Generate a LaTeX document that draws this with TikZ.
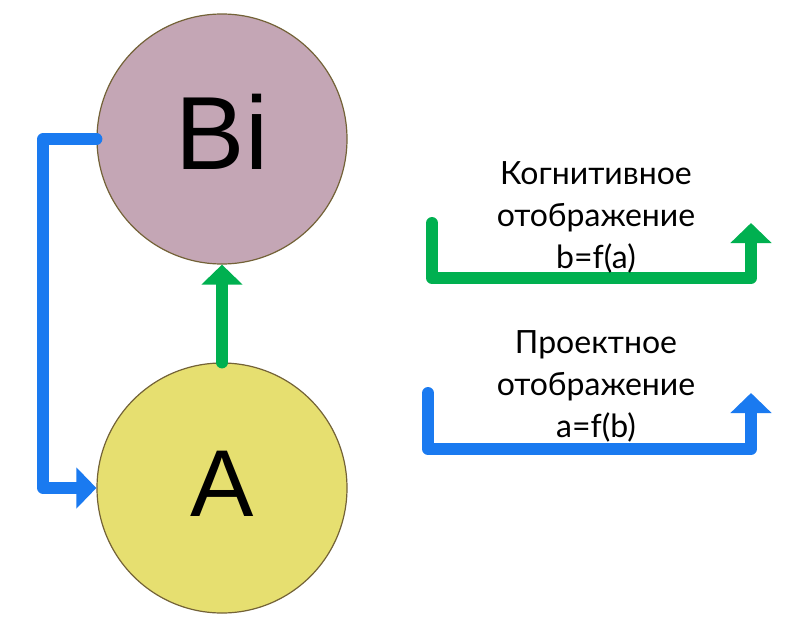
\documentclass[tikz,border=0pt]{standalone}
\usepackage{fontspec}
\setmainfont{Liberation Sans}
\newfontfamily\thinfont{Lato}
\usetikzlibrary{arrows.meta}
\definecolor{bicol}{RGB}{196,166,181}
\definecolor{acol}{RGB}{230,223,112}
\definecolor{rimcol}{RGB}{115,98,55}
\definecolor{grn}{RGB}{0,176,80}
\definecolor{blu}{RGB}{26,122,240}
\tikzset{
  ball/.style={circle, minimum size=250pt, inner sep=0pt, draw=rimcol, line width=1.2pt},
  conn/.style={line width=12pt, line cap=round, line join=round, -{Triangle[width=40pt,length=20pt]}},
  lbl/.style={align=center, font=\thinfont\fontsize{32}{42}\selectfont, anchor=base, inner sep=0pt}
}
\begin{document}
\begin{tikzpicture}[x=1pt,y=-1pt]
\useasboundingbox (0,0) rectangle (800,624);
\node[ball, fill=bicol, text depth=14pt, font=\fontsize{104}{104}\selectfont] (Bi) at (222,139) {Bi};
\node[ball, fill=acol, text depth=8pt, font=\fontsize{95}{95}\selectfont] (A) at (222,488) {A};
\draw[conn, grn] (A.north) -- (Bi.south);
\draw[conn, blu] (Bi.west) -- ++(-53,0) |- (A.west);
\coordinate (g1) at (432,223);
\coordinate (g2) at (751,223);
\coordinate (b1) at (428,393);
\coordinate (b2) at (751,393);
\draw[conn, grn] (g1) -- ++(0,55) -| (g2);
\draw[conn, blu] (b1) -- ++(0,56) -| (b2);
\node[lbl] (cog) at (596,268) {Когнитивное\\отображение\\b=f(a)};
\node[lbl] (proj) at (596,437) {Проектное\\отображение\\a=f(b)};
\end{tikzpicture}
\end{document}
